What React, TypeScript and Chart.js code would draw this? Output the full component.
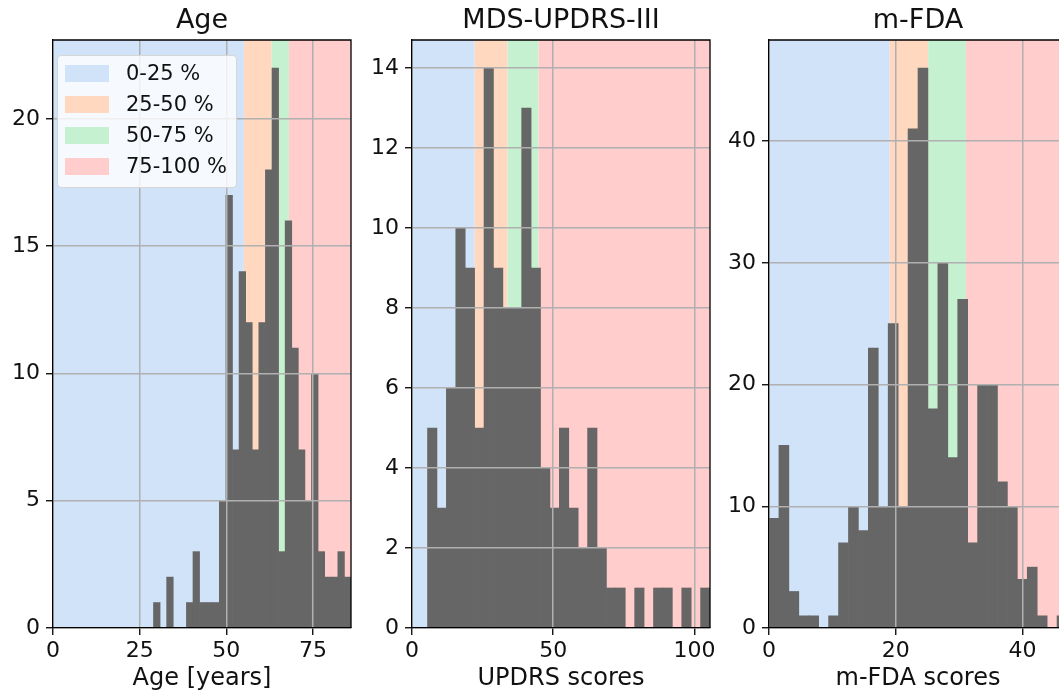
import React, { useEffect, useRef } from "react";
import { Chart, registerables } from "chart.js";
Chart.register(...registerables);

// ---------------- data ----------------
const ageCounts = [1, 0, 2, 0, 0, 1, 3, 1, 1, 1, 5, 17, 7, 14, 12, 7, 12, 18, 22, 3, 16, 11, 7, 5, 10, 3, 2, 2, 3, 2];
const ageBinRange = [29, 86];
const ageQuartiles = [0, 55.1, 63.1, 68.1, 86];
const ageXTicks = [0, 25, 50, 75];
const ageYTicks = [0, 5, 10, 15, 20];
const ageLimits = [86, 23.1];

const updrsCounts = [5, 3, 6, 10, 9, 5, 14, 9, 8, 8, 13, 9, 4, 3, 5, 3, 2, 5, 2, 1, 1, 0, 1, 0, 1, 1, 0, 1, 0, 1];
const updrsBinRange = [5.5, 105.5];
const updrsQuartiles = [0, 22.2, 33.8, 44.8, 105.5];
const updrsXTicks = [0, 50, 100];
const updrsYTicks = [0, 2, 4, 6, 8, 10, 12, 14];
const updrsLimits = [105.5, 14.7];

const fdaCounts = [9, 15, 3, 1, 1, 0, 1, 7, 10, 8, 23, 10, 25, 10, 41, 46, 18, 30, 14, 27, 7, 20, 20, 12, 10, 4, 5, 1, 0, 1];
const fdaBinRange = [0, 47];
const fdaQuartiles = [0, 19.05, 25.1, 31.05, 47];
const fdaXTicks = [0, 20, 40];
const fdaYTicks = [0, 10, 20, 30, 40];
const fdaLimits = [47, 48.3];

const titles = ["Age", "MDS-UPDRS-III", "m-FDA"];
const xLabels = ["Age [years]", "UPDRS scores", "m-FDA scores"];
const legendLabels = ["0-25 %", "25-50 %", "50-75 %", "75-100 %"];

// ---------------- styles ----------------
const FONT = "'DejaVu Sans', sans-serif";
const SHADE_COLORS = ["#d0e3f8", "#ffd8bf", "#c6f1d0", "#ffcdcc"];
const BAR_COLOR = "#666666";
const GRID_COLOR = "#b0b0b0";
const TEXT_COLOR = "#111111";
const CANVAS_W = 381;
const CANVAS_H = 691;
const Y_AXIS_W = 53;
const X_AXIS_H = 63;
const RIGHT_PAD = 30;
const TOP_PAD = 40;

type PanelCfg = {
  title: string;
  xLabel: string;
  counts: number[];
  binRange: number[];
  quartiles: number[];
  xTicks: number[];
  yTicks: number[];
  limits: number[];
  left: number;
};

const panels: PanelCfg[] = [
  { title: titles[0], xLabel: xLabels[0], counts: ageCounts, binRange: ageBinRange, quartiles: ageQuartiles, xTicks: ageXTicks, yTicks: ageYTicks, limits: ageLimits, left: 0 },
  { title: titles[1], xLabel: xLabels[1], counts: updrsCounts, binRange: updrsBinRange, quartiles: updrsQuartiles, xTicks: updrsXTicks, yTicks: updrsYTicks, limits: updrsLimits, left: 359 },
  { title: titles[2], xLabel: xLabels[2], counts: fdaCounts, binRange: fdaBinRange, quartiles: fdaQuartiles, xTicks: fdaXTicks, yTicks: fdaYTicks, limits: fdaLimits, left: 716 },
];

function Panel({ cfg }: { cfg: PanelCfg }) {
  const ref = useRef<HTMLCanvasElement>(null);
  useEffect(() => {
    if (!ref.current) return;
    const n = cfg.counts.length;
    const w = (cfg.binRange[1] - cfg.binRange[0]) / n;
    const data = cfg.counts.map((c, i) => ({ x: cfg.binRange[0] + w * (i + 0.5), y: c }));

    const shade = {
      id: "shade",
      beforeDatasetsDraw(chart: any) {
        const { ctx, chartArea: a, scales } = chart;
        const x = scales.x;
        ctx.save();
        ctx.beginPath();
        ctx.rect(a.left, a.top, a.right - a.left, a.bottom - a.top);
        ctx.clip();
        for (let i = 0; i < 4; i++) {
          const x0 = x.getPixelForValue(cfg.quartiles[i]);
          const x1 = x.getPixelForValue(cfg.quartiles[i + 1]);
          ctx.fillStyle = SHADE_COLORS[i];
          ctx.fillRect(x0, a.top, x1 - x0, a.bottom - a.top);
        }
        ctx.restore();
      },
      afterDraw(chart: any) {
        const { ctx, chartArea: a } = chart;
        ctx.save();
        ctx.strokeStyle = "#000";
        ctx.lineWidth = 1.3;
        ctx.beginPath();
        ctx.moveTo(a.left, a.top);
        ctx.lineTo(a.right, a.top);
        ctx.lineTo(a.right, a.bottom);
        ctx.stroke();
        // panel title, centred over the plot area
        ctx.fillStyle = TEXT_COLOR;
        ctx.font = `27px ${FONT}`;
        ctx.textAlign = "center";
        ctx.textBaseline = "alphabetic";
        ctx.fillText(cfg.title, (a.left + a.right) / 2, 28);
        ctx.restore();
      },
    };

    const gridOpts = {
      offset: false,
      color: GRID_COLOR,
      lineWidth: 1.5,
      z: 1,
      drawTicks: true,
      tickLength: 7,
      tickColor: "#000",
      tickWidth: 1.3,
    };
    const borderOpts = { display: true, color: "#000", width: 1.3, z: 2 };

    const chart = new Chart(ref.current, {
      type: "bar",
      data: {
        datasets: [
          {
            data: data as any,
            backgroundColor: BAR_COLOR,
            borderWidth: 0,
            barPercentage: 1,
            categoryPercentage: 1,
            grouped: false,
          } as any,
        ],
      },
      options: {
        responsive: false,
        animation: false,
        layout: { padding: { left: 0, right: RIGHT_PAD, top: TOP_PAD, bottom: 0 } },
        plugins: {
          legend: { display: false },
          tooltip: { enabled: false },
          title: { display: false },
        },
        scales: {
          x: {
            type: "linear",
            min: 0,
            max: cfg.limits[0],
            offset: false,
            afterFit: (s: any) => {
              s.height = X_AXIS_H;
            },
            afterBuildTicks: (s: any) => {
              s.ticks = cfg.xTicks.map((v) => ({ value: v }));
            },
            grid: gridOpts as any,
            border: borderOpts as any,
            ticks: {
              color: TEXT_COLOR,
              font: { family: FONT, size: 22 },
              padding: 3,
              maxRotation: 0,
              autoSkip: false,
              callback: (v: any) => String(v),
            },
            title: {
              display: true,
              text: cfg.xLabel,
              color: TEXT_COLOR,
              font: { family: FONT, size: 24, lineHeight: 1 },
              padding: { top: 0, bottom: 0 },
            },
          },
          y: {
            type: "linear",
            min: 0,
            max: cfg.limits[1],
            afterFit: (s: any) => {
              s.width = Y_AXIS_W;
            },
            afterBuildTicks: (s: any) => {
              s.ticks = cfg.yTicks.map((v) => ({ value: v }));
            },
            grid: gridOpts as any,
            border: borderOpts as any,
            ticks: {
              color: TEXT_COLOR,
              font: { family: FONT, size: 22 },
              padding: 6,
              autoSkip: false,
              callback: (v: any) => String(v),
            },
          },
        },
      } as any,
      plugins: [shade as any],
    });
    return () => chart.destroy();
  }, []);
  return (
    <canvas
      ref={ref}
      width={CANVAS_W}
      height={CANVAS_H}
      style={{ position: "absolute", left: cfg.left, top: 0, width: CANVAS_W, height: CANVAS_H }}
    />
  );
}

function Legend() {
  return (
    <div
      style={{
        position: "absolute",
        left: 57,
        top: 55,
        width: 178,
        height: 131,
        background: "rgba(255,255,255,0.8)",
        border: "1px solid #d6d6d6",
        borderRadius: 4,
        fontFamily: FONT,
        fontSize: 21,
        color: TEXT_COLOR,
      }}
    >
      {legendLabels.map((lab, i) => (
        <div key={lab} style={{ position: "absolute", left: 0, top: 9 + i * 31.1, height: 17, width: 178 }}>
          <div style={{ position: "absolute", left: 7, top: 0, width: 44, height: 17, background: SHADE_COLORS[i] }} />
          <div style={{ position: "absolute", left: 68, top: -4, lineHeight: "24px", whiteSpace: "nowrap" }}>{lab}</div>
        </div>
      ))}
    </div>
  );
}

export default function App() {
  return (
    <div
      style={{
        position: "fixed",
        left: 0,
        top: 0,
        width: 1059,
        height: 691,
        overflow: "hidden",
        background: "#fff",
      }}
    >
      {panels.map((p) => (
        <Panel key={p.title} cfg={p} />
      ))}
      <Legend />
    </div>
  );
}
